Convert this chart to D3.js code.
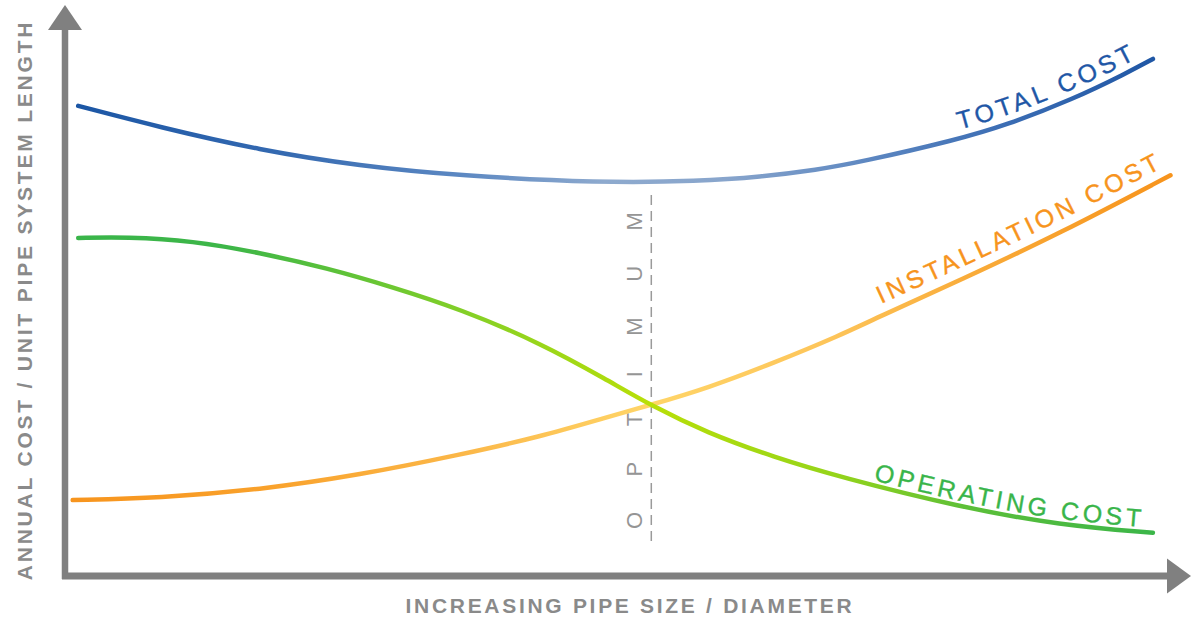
<!DOCTYPE html>
<html><head><meta charset="utf-8">
<script src="https://cdn.jsdelivr.net/npm/d3@7"></script>
<style>html,body{margin:0;padding:0;background:#fff;} svg{display:block;}</style>
</head><body>
<svg id="chart" width="1191" height="620"></svg>
<script>
// ---- data (x = pipe size, y = annual cost; arbitrary 0-100 units) ----
const totalX = [1.2, 8.6, 17.7, 26.8, 35.9, 48.6, 57.7, 63.2, 68.4, 72.3, 81.1, 85.6, 91.6, 96.5, 98.9];
const totalY = [86.1, 82.2, 78.0, 75.1, 73.3, 72.0, 72.3, 73.1, 74.4, 75.8, 79.9, 82.6, 87.3, 92.1, 94.7];

const operatingX = [1.2, 5.6, 11.6, 17.7, 23.8, 29.8, 35.9, 43.2, 49.3, 53.2, 58.4, 64.4, 70.5, 81.4, 90.5, 98.9];
const operatingY = [61.9, 62.1, 61.4, 59.2, 56.4, 52.9, 48.9, 42.7, 35.9, 31.3, 26.2, 21.8, 18.1, 12.6, 9.3, 7.9];

const installX = [0.7, 8.6, 17.7, 26.8, 35.9, 43.2, 49.3, 53.2, 58.4, 64.4, 70.5, 73.8, 81.4, 90.5, 100.5];
const installY = [13.9, 14.3, 15.8, 18.5, 22.2, 25.5, 29.1, 31.3, 34.4, 39.0, 44.1, 47.3, 54.2, 62.8, 73.4];

const optimumX = 53.3;
const seriesNames = ["TOTAL COST", "INSTALLATION COST", "OPERATING COST"];
const labelStartX = [81.3, 74.2, 73.5];
const xAxisTitle = "INCREASING PIPE SIZE / DIAMETER";
const yAxisTitle = "ANNUAL COST / UNIT PIPE SYSTEM LENGTH";
const optimumLabel = "OPTIMUM";

// ---- layout ----
const svg = d3.select("#chart");
const x = d3.scaleLinear().domain([0, 100]).range([65, 1165]);
const y = d3.scaleLinear().domain([0, 100]).range([576, 30]);
const axisColor = "#808080";
const font = "'Liberation Sans', Arial, sans-serif";

const defs = svg.append("defs");
function grad(id, stops) {
  const g = defs.append("linearGradient").attr("id", id)
    .attr("gradientUnits", "userSpaceOnUse")
    .attr("x1", x(0)).attr("x2", x(100)).attr("y1", 0).attr("y2", 0);
  stops.forEach(s => g.append("stop").attr("offset", s[0]).attr("stop-color", s[1]));
}
grad("gBlue", [[0, "#1a55a4"], [0.2, "#356ab1"], [0.36, "#5c88c2"], [0.49, "#8eaace"], [0.6, "#88a5cc"], [0.74, "#5a85c0"], [0.86, "#3a6cb3"], [1, "#1d55a4"]]);
grad("gGreen", [[0, "#39b54a"], [0.15, "#3db648"], [0.36, "#82cf28"], [0.53, "#b8df08"], [0.7, "#95d41a"], [0.82, "#5cbf38"], [1, "#39b54a"]]);
grad("gOrange", [[0, "#f7941d"], [0.18, "#f9a12b"], [0.36, "#fbb748"], [0.53, "#ffd568"], [0.7, "#fdc459"], [0.82, "#f9ac3a"], [1, "#f7941d"]]);

// ---- axes ----
svg.append("line").attr("x1", x(0)).attr("x2", x(0)).attr("y1", y(0) + 3).attr("y2", y(100))
  .attr("stroke", axisColor).attr("stroke-width", 6.5);
svg.append("line").attr("x1", x(0) - 3).attr("x2", x(100) + 2).attr("y1", y(0)).attr("y2", y(0))
  .attr("stroke", axisColor).attr("stroke-width", 7);
svg.append("path").attr("fill", axisColor)
  .attr("d", `M${x(0)},${y(100) - 25} L${x(0) + 17},${y(100)} L${x(0) - 17},${y(100)} Z`);
svg.append("path").attr("fill", axisColor)
  .attr("d", `M${x(100) + 26},${y(0)} L${x(100) + 2},${y(0) - 17.5} L${x(100) + 2},${y(0) + 17.5} Z`);

svg.append("text").text(xAxisTitle)
  .attr("x", 630).attr("y", 613).attr("text-anchor", "middle")
  .attr("font-family", font).attr("font-weight", "bold")
  .attr("font-size", 21).attr("letter-spacing", 2.7).attr("fill", "#8a8a8a");
svg.append("text").text(yAxisTitle)
  .attr("transform", "translate(32,300) rotate(-90)").attr("text-anchor", "middle")
  .attr("font-family", font).attr("font-weight", "bold")
  .attr("font-size", 21).attr("letter-spacing", 2.8).attr("fill", "#8a8a8a");

// ---- optimum line ----
svg.append("line").attr("x1", x(optimumX)).attr("x2", x(optimumX))
  .attr("y1", 195).attr("y2", 547)
  .attr("stroke", "#9a9a9a").attr("stroke-width", 1.5).attr("stroke-dasharray", "10,6");
svg.append("text").text(optimumLabel)
  .attr("transform", `translate(${x(optimumX) - 9},529) rotate(-90)`)
  .attr("font-family", font)
  .attr("font-size", 22).attr("letter-spacing", 35.5).attr("fill", "#959595");

// ---- curves ----
const series = [
  { xs: totalX, ys: totalY, stroke: "url(#gBlue)", text: "#1f57a6", gap: 9, ls: 4 },
  { xs: installX, ys: installY, stroke: "url(#gOrange)", text: "#f7941d", gap: 12, ls: 3.8 },
  { xs: operatingX, ys: operatingY, stroke: "url(#gGreen)", text: "#39b54a", gap: 5, ls: 3.8 }
];

series.forEach((s, i) => {
  s.pts = s.xs.map((v, k) => ({ x: v, y: s.ys[k] }));
  s.name = seriesNames[i];
  s.start = labelStartX[i];
});

const line = d3.line().x(d => x(d.x)).y(d => y(d.y)).curve(d3.curveBasis);

// orange first, green over it, then blue
[series[1], series[2], series[0]].forEach(s => {
  svg.append("path").attr("d", line(s.pts)).attr("fill", "none")
    .attr("stroke", s.stroke).attr("stroke-width", 4.5).attr("stroke-linecap", "round");
});

// ---- curve labels along offset paths ----
series.forEach((s, i) => {
  const offLine = d3.line().x(d => x(d.x)).y(d => y(d.y) - s.gap).curve(d3.curveBasis);
  const p = defs.append("path").attr("id", "lp" + i).attr("d", offLine(s.pts));
  const node = p.node();
  const total = node.getTotalLength();
  const target = x(s.start);
  let lo = 0, hi = total;
  for (let k = 0; k < 40; k++) {
    const mid = (lo + hi) / 2;
    if (node.getPointAtLength(mid).x < target) lo = mid; else hi = mid;
  }
  svg.append("text")
    .attr("font-family", font)
    .attr("font-size", 25).attr("letter-spacing", s.ls).attr("fill", s.text)
    .attr("stroke", s.text).attr("stroke-width", 0.35)
    .append("textPath").attr("href", "#lp" + i).attr("startOffset", lo)
    .text(s.name);
});
</script>
</body></html>
